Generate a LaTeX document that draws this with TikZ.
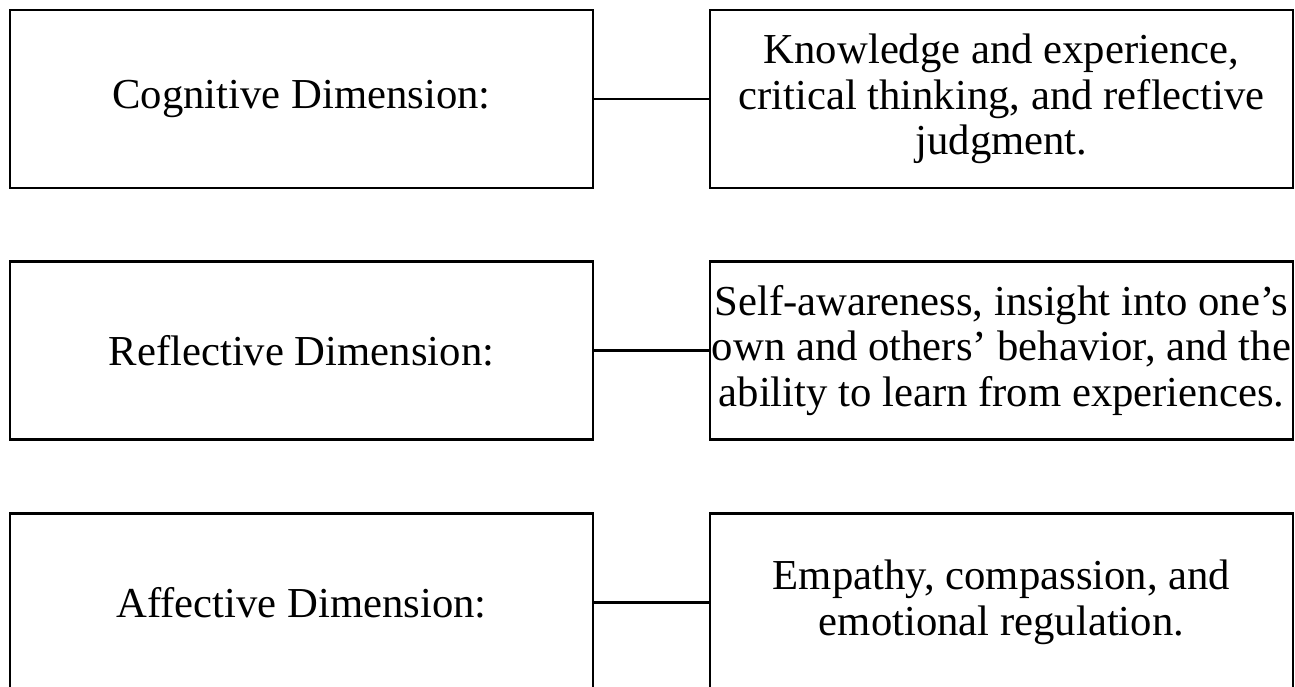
\documentclass[tikz,border=0pt]{standalone}
\usepackage{fontspec}
\setmainfont{Liberation Serif}
\begin{document}
\begin{tikzpicture}[x=1pt,y=-1pt,
  dimbox/.style={draw=black, line width=2.7pt, minimum width=583pt, minimum height=178pt,
    inner sep=0pt, align=center, font=\fontsize{42.7}{45.5}\selectfont},
  link/.style={draw=black, line width=2.7pt}]
  \clip (0,0) rectangle (1295,687);
  \fill[white] (0,0) rectangle (1295,687);

  % left column: dimension names
  \node[dimbox] (cog) at (301.5,99) {Cognitive Dimension:};
  \node[dimbox] (ref) at (301.5,350.5) {Reflective Dimension:};
  \node[dimbox] (aff) at (301.5,602.5) {Affective Dimension:};

  % right column: descriptions
  \node[dimbox] (cogd) at (1001.5,99) {Knowledge and experience,\\critical thinking, and reflective\\judgment.};
  \node[dimbox] (refd) at (1001.5,350.5) {Self-awareness, insight into one’s\\own and others’ behavior, and the\\ability to learn from experiences.};
  \node[dimbox] (affd) at (1001.5,602.5) {Empathy, compassion, and\\emotional regulation.};

  % connectors
  \draw[link] (cog.east) -- (cogd.west);
  \draw[link] (ref.east) -- (refd.west);
  \draw[link] (aff.east) -- (affd.west);
\end{tikzpicture}
\end{document}
